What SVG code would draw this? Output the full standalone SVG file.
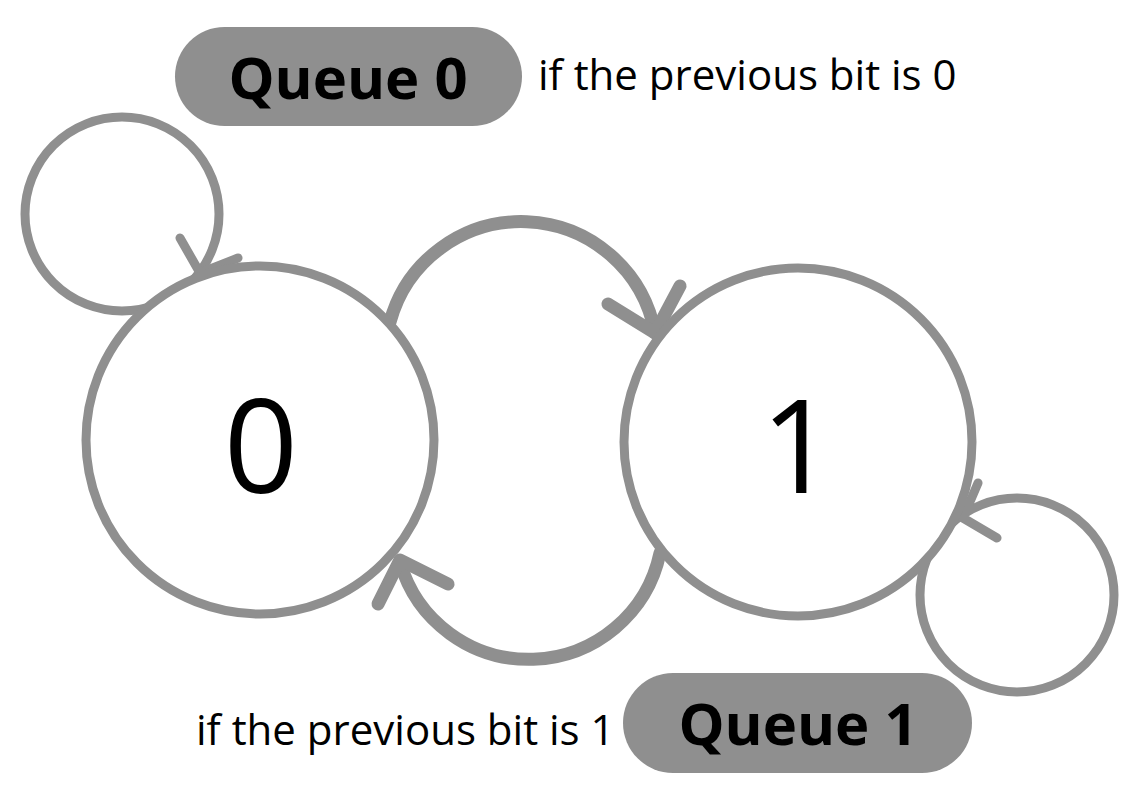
<svg xmlns="http://www.w3.org/2000/svg" width="1137" height="789" viewBox="0 0 1137 789">
<style>
.edge{fill:none;stroke:#8f8f8f;stroke-linecap:round;stroke-linejoin:round}
.thin{stroke-width:9}
.thick{stroke-width:13}
.node{fill:#fff;stroke:#8f8f8f;stroke-width:9}
.pill{fill:#8f8f8f}
.lbl{font-family:"Open Sans","Noto Sans","Liberation Sans",sans-serif;fill:#000}
.big{font-size:130px;text-anchor:middle}
.q{font-size:58px;font-weight:bold;text-anchor:middle}
.cond{font-size:42px}
</style>
<rect width="1137" height="789" fill="#fff"/>
<g id="connectors">
  <circle class="edge thin" cx="122" cy="214" r="97"/>
  <path class="edge thin" d="M180 238 L200 273 L238 258"/>
  <path class="edge thick" d="M390 322 A136 136 0 0 1 655 333"/>
  <path class="edge thick" d="M608 304 L655 333 L680 286"/>
  <path class="edge thick" d="M660 553 A134 134 0 0 1 400 562"/>
  <path class="edge thick" d="M448 584 L400 560 L378 604"/>
  <circle class="edge thin" cx="1017" cy="595" r="97"/>
  <path class="edge thin" d="M997 538 L963 518 L978 483"/>
</g>
<g id="node0">
  <circle class="node" cx="260" cy="440" r="174"/>
  <text class="lbl big" x="261" y="493">0</text>
</g>
<g id="node1">
  <circle class="node" cx="798" cy="442" r="174"/>
  <text class="lbl big" x="798" y="493">1</text>
</g>
<g id="queue0">
  <rect class="pill" x="175" y="27" width="347" height="99" rx="49.5"/>
  <text class="lbl q" x="348" y="99">Queue 0</text>
  <text class="lbl cond" x="538" y="90">if the previous bit is 0</text>
</g>
<g id="queue1">
  <rect class="pill" x="623" y="673" width="349" height="100" rx="50"/>
  <text class="lbl q" x="798" y="745">Queue 1</text>
  <text class="lbl cond" x="196" y="745">if the previous bit is 1</text>
</g>
</svg>
